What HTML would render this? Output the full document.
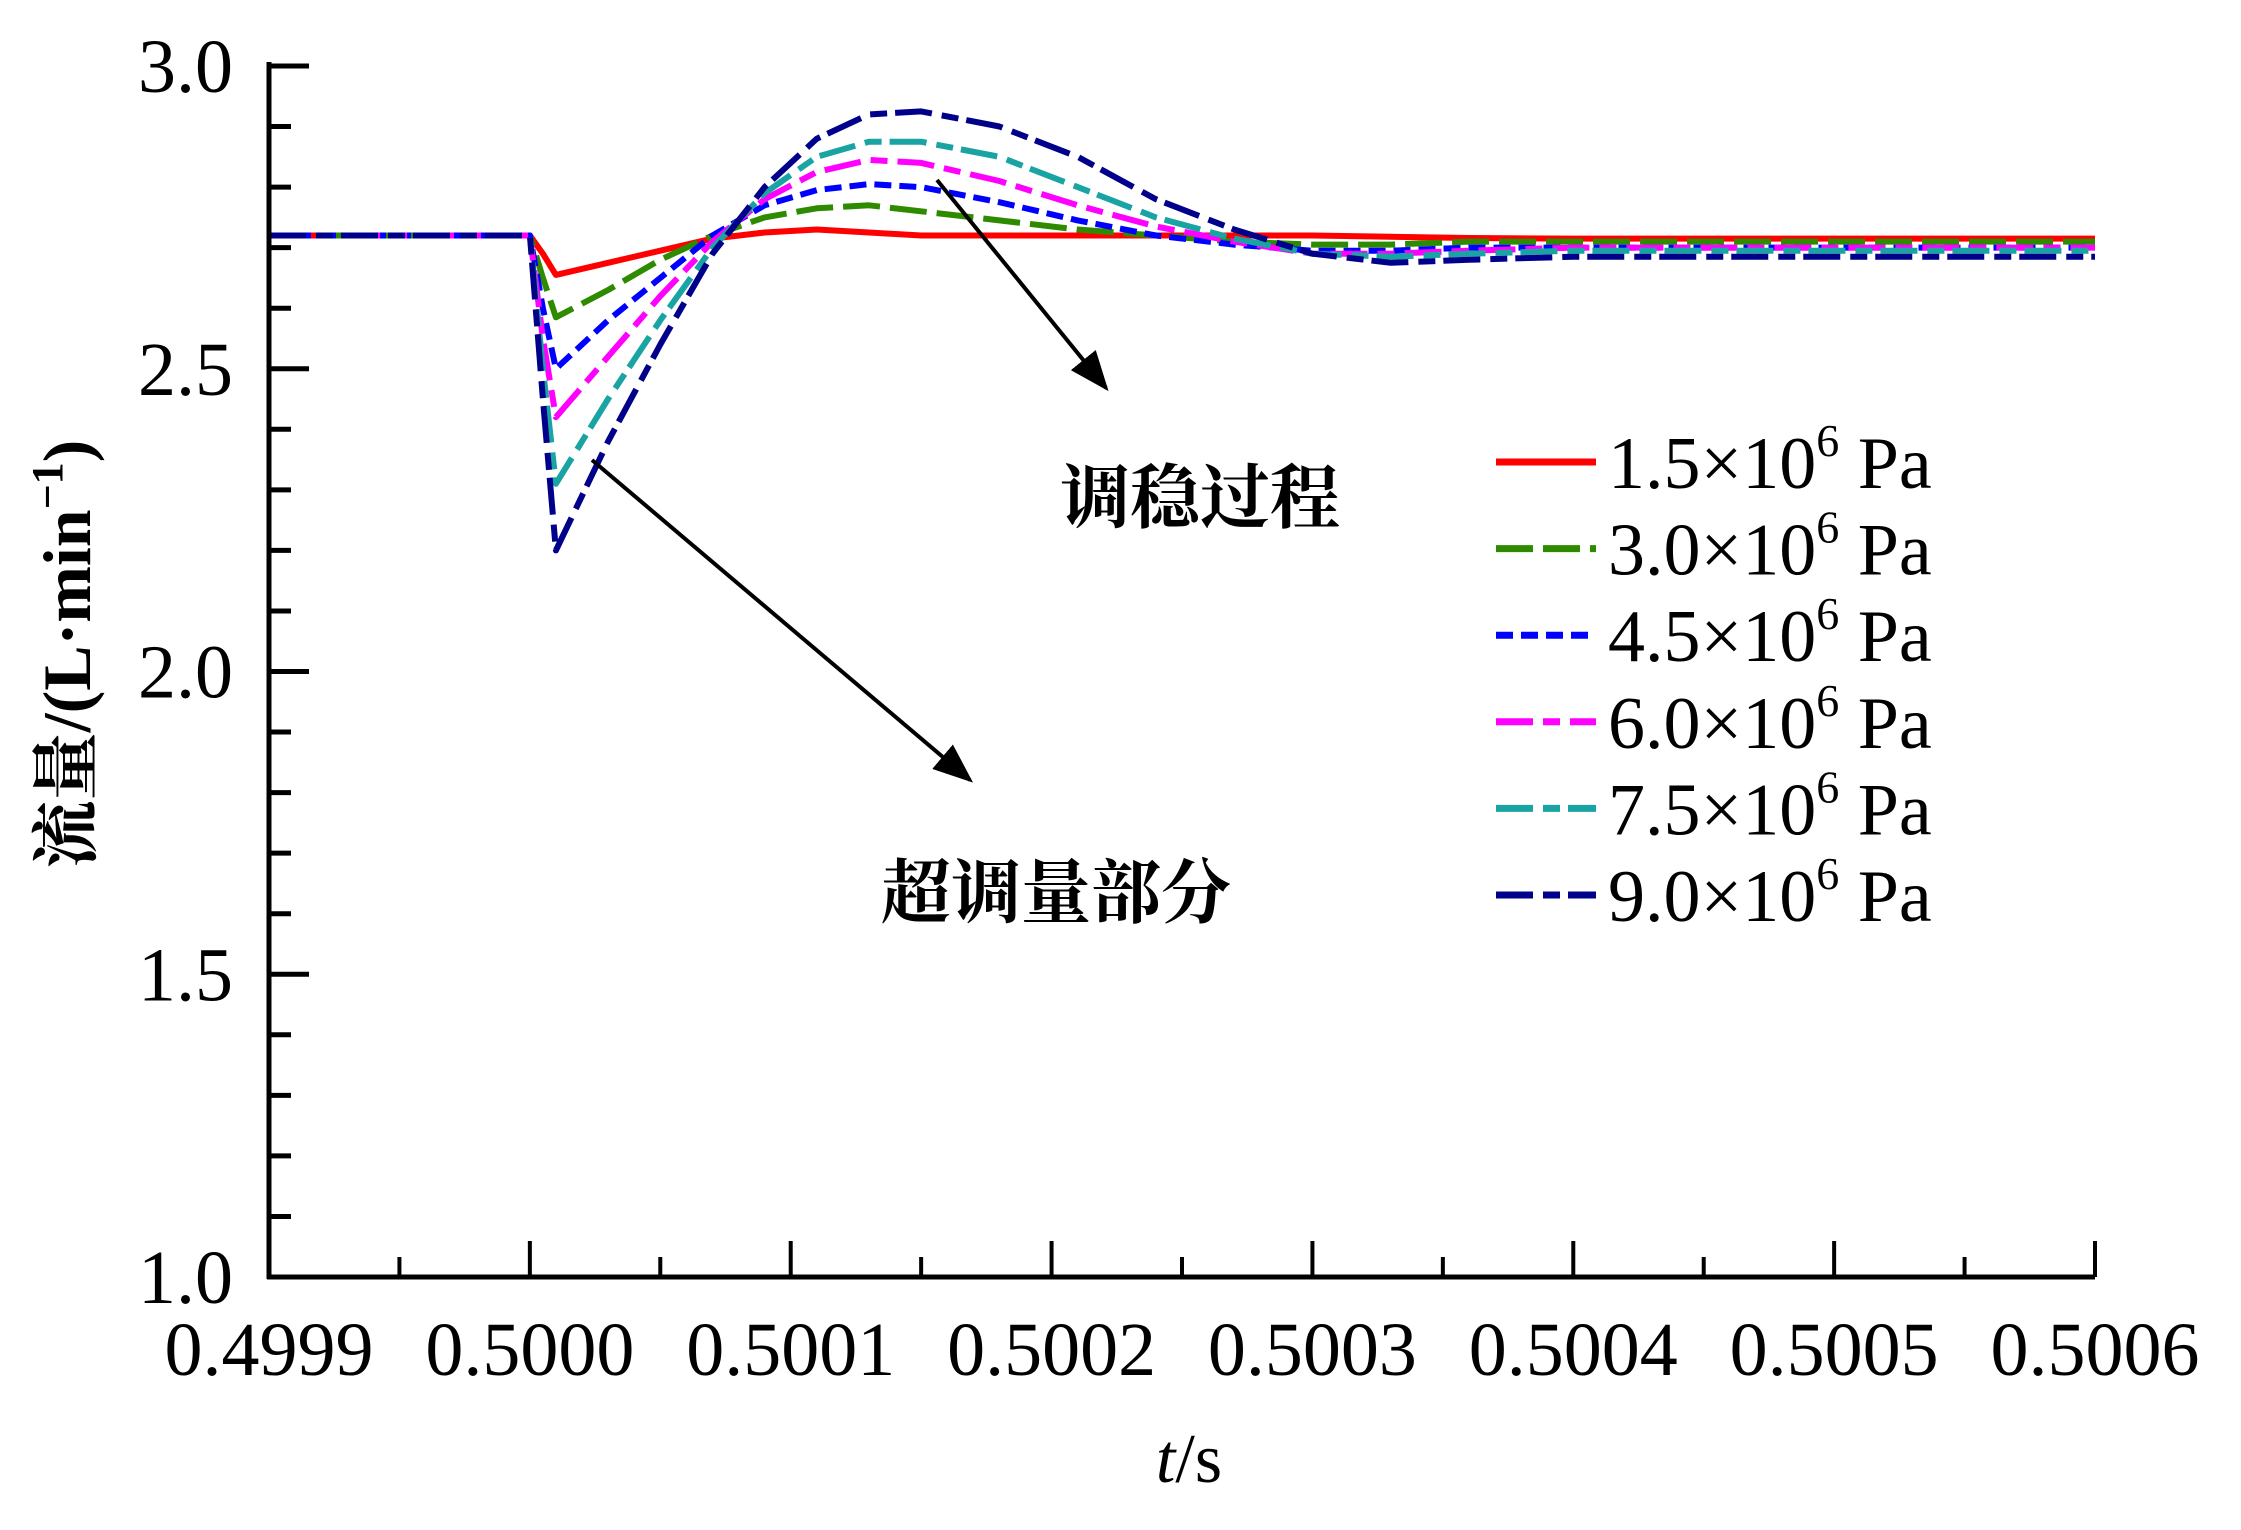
<!DOCTYPE html>
<html><head><meta charset="utf-8"><style>
html,body{margin:0;padding:0;background:#fff;}
svg{display:block;}
text{font-family:"Liberation Serif","Noto Serif CJK SC",serif;fill:#000;}
.cjk{font-family:"Liberation Serif","Noto Serif CJK SC",serif;font-weight:bold;}
</style></head><body>
<svg id="chart" width="2241" height="1530" viewBox="0 0 2241 1530" xmlns="http://www.w3.org/2000/svg">
<defs>
<marker id="ah" markerWidth="10" markerHeight="8" refX="9" refY="4" orient="auto" markerUnits="strokeWidth">
<path d="M0,0 L10,4 L0,8 Z" fill="#000"/>
</marker>
</defs>
<g id="plot"></g>
<g id="axes"></g>
<text class="cjk" transform="translate(90,654) rotate(-90)" text-anchor="middle" font-size="68">流量/(L·min<tspan dy="-28" font-size="44">−1</tspan><tspan dy="28">)</tspan></text>
<text x="1189" y="1482" text-anchor="middle" font-size="70"><tspan font-style="italic">t</tspan>/s</text>
<line x1="937" y1="180" x2="1106" y2="388" stroke="#000" stroke-width="4" marker-end="url(#ah)"/>
<line x1="592" y1="460" x2="970" y2="780" stroke="#000" stroke-width="4" marker-end="url(#ah)"/>
<text class="cjk" x="1200" y="522" text-anchor="middle" font-size="70">调稳过程</text>
<text class="cjk" x="1056" y="917" text-anchor="middle" font-size="70">超调量部分</text>
<g id="legend"></g>
</svg>
<script>
const times = [0.4999, 0.5, 0.500005, 0.50001, 0.50003, 0.50005, 0.50007, 0.50009, 0.50011, 0.50013, 0.50015, 0.50018, 0.50021, 0.50024, 0.50027, 0.5003, 0.50033, 0.50036, 0.5004, 0.5006];
const s15 = [2.72,2.72,2.69,2.655,2.675,2.695,2.715,2.725,2.73,2.725,2.72,2.72,2.72,2.72,2.72,2.72,2.718,2.716,2.715,2.715];
const s30 = [2.72,2.72,2.65,2.585,2.63,2.68,2.72,2.75,2.765,2.77,2.76,2.745,2.73,2.72,2.71,2.705,2.705,2.71,2.71,2.71];
const s45 = [2.72,2.72,2.6,2.50,2.58,2.65,2.72,2.77,2.795,2.805,2.80,2.775,2.745,2.72,2.705,2.695,2.695,2.70,2.70,2.70];
const s60 = [2.72,2.72,2.55,2.42,2.52,2.62,2.71,2.78,2.825,2.845,2.84,2.81,2.77,2.735,2.71,2.69,2.69,2.695,2.70,2.70];
const s75 = [2.72,2.72,2.5,2.31,2.45,2.58,2.70,2.79,2.85,2.875,2.875,2.85,2.80,2.75,2.715,2.69,2.685,2.69,2.695,2.695];
const s90 = [2.72,2.72,2.45,2.20,2.38,2.54,2.69,2.80,2.88,2.92,2.925,2.90,2.85,2.78,2.73,2.69,2.675,2.68,2.685,2.685];
const seriesLabels = ["1.5", "3.0", "4.5", "6.0", "7.5", "9.0"];
const xTicks = ["0.4999","0.5000","0.5001","0.5002","0.5003","0.5004","0.5005","0.5006"];
const yTicks = ["1.0","1.5","2.0","2.5","3.0"];

const NS = "http://www.w3.org/2000/svg";
const X0 = 269, X1 = 2095, Y0 = 1277, Y1 = 66;
const xs = t => X0 + (t - 0.4999) / 0.0007 * (X1 - X0);
const ys = v => Y0 - (v - 1.0) / 2.0 * (Y0 - Y1);
function mk(tag, attrs, parent) {
  const e = document.createElementNS(NS, tag);
  for (const k in attrs) e.setAttribute(k, attrs[k]);
  parent.appendChild(e);
  return e;
}
const plot = document.getElementById('plot');
const axes = document.getElementById('axes');
const legend = document.getElementById('legend');
const styles = [
  {c:"#ff0000", d:"none", n:"series-1-5mpa"},
  {c:"#2e8b00", d:"37 10", n:"series-3-0mpa"},
  {c:"#0000ff", d:"17 8", n:"series-4-5mpa"},
  {c:"#ff00ff", d:"37 10 17 10", n:"series-6-0mpa"},
  {c:"#1aa3a3", d:"37 10 17 8", n:"series-7-5mpa"},
  {c:"#00008b", d:"37 10 17 8", n:"series-9-0mpa"}
];
const data = [s15, s30, s45, s60, s75, s90];
data.forEach((arr, i) => {
  const pts = arr.map((v, j) => xs(times[j]).toFixed(1) + "," + ys(v).toFixed(1)).join(" ");
  const p = mk('polyline', {points: pts, fill: "none", stroke: styles[i].c, "stroke-width": 6, "stroke-dasharray": styles[i].d, "stroke-linejoin": "round"}, plot);
  
  
});
const ya = mk('line', {x1: X0, y1: Y1 - 4, x2: X0, y2: Y0 + 2, stroke: "#000", "stroke-width": 5}, axes);


const xa = mk('line', {x1: X0 - 2, y1: Y0, x2: X1, y2: Y0, stroke: "#000", "stroke-width": 5}, axes);


for (let k = 0; k <= 20; k++) {
  const v = 1.0 + k * 0.1;
  const major = k % 5 === 0;
  const t = mk('line', {x1: X0, x2: X0 + (major ? 40 : 22), y1: ys(v), y2: ys(v), stroke: "#000", "stroke-width": 5}, axes);
  
  
}
yTicks.forEach(lbl => {
  const tx = mk('text', {x: X0 - 36, y: ys(parseFloat(lbl)) + 26, "text-anchor": "end", "font-size": 76}, axes);
  tx.textContent = lbl;
  
  
});
for (let k = 0; k <= 14; k++) {
  const x = X0 + k * (X1 - X0) / 14;
  const major = k % 2 === 0;
  const t = mk('line', {x1: x, x2: x, y1: Y0, y2: Y0 - (major ? 36 : 20), stroke: "#000", "stroke-width": 4}, axes);
  
  
}
xTicks.forEach(lbl => {
  const tx = mk('text', {x: xs(parseFloat(lbl)), y: Y0 + 98, "text-anchor": "middle", "font-size": 76}, axes);
  tx.textContent = lbl;
  
  
});
seriesLabels.forEach((lbl, i) => {
  const y = 462 + i * 86.6;
  const ln = mk('line', {x1: 1496, x2: 1596, y1: y, y2: y, stroke: styles[i].c, "stroke-width": 7, "stroke-dasharray": styles[i].d}, legend);
  
  
  const tx = mk('text', {x: 1608, y: y + 26, "font-size": 74}, legend);
  
  
  tx.appendChild(document.createTextNode(lbl + "×10"));
  const sup = mk('tspan', {dy: -32, "font-size": 46}, tx);
  sup.textContent = "6";
  const pa = mk('tspan', {dy: 32, "font-size": 74}, tx);
  pa.textContent = " Pa";
});
</script>
</body></html>
